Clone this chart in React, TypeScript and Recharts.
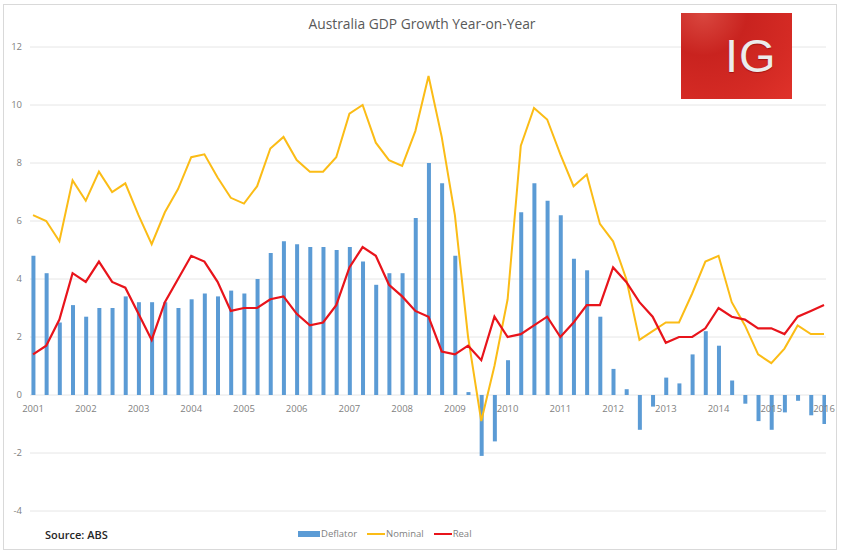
import { ComposedChart, Bar, Line, XAxis, YAxis, CartesianGrid } from 'recharts'

// Quarterly year-on-year growth, Mar-2001 .. Mar-2016 (61 quarters)
const YEARS = [
  '2001', '2002', '2003', '2004', '2005', '2006', '2007', '2008',
  '2009', '2010', '2011', '2012', '2013', '2014', '2015', '2016',
]

const DEFLATOR = [
  4.8, 4.2, 2.5, 3.1, 2.7, 3.0, 3.0, 3.4, 3.2, 3.2, 3.2, 3.0, 3.3, 3.5, 3.4, 3.6,
  3.5, 4.0, 4.9, 5.3, 5.2, 5.1, 5.1, 5.0, 5.1, 4.6, 3.8, 4.2, 4.2, 6.1, 8.0, 7.3,
  4.8, 0.1, -2.1, -1.6, 1.2, 6.3, 7.3, 6.7, 6.2, 4.7, 4.3, 2.7, 0.9, 0.2, -1.2, -0.4,
  0.6, 0.4, 1.4, 2.2, 1.7, 0.5, -0.3, -0.9, -1.2, -0.6, -0.2, -0.7, -1.0,
]

const NOMINAL = [
  6.2, 6.0, 5.3, 7.4, 6.7, 7.7, 7.0, 7.3, 6.2, 5.2, 6.3, 7.1, 8.2, 8.3, 7.5, 6.8,
  6.6, 7.2, 8.5, 8.9, 8.1, 7.7, 7.7, 8.2, 9.7, 10.0, 8.7, 8.1, 7.9, 9.1, 11.0, 8.9,
  6.2, 2.0, -0.9, 1.0, 3.3, 8.6, 9.9, 9.5, 8.3, 7.2, 7.6, 5.9, 5.3, 4.0, 1.9, 2.2,
  2.5, 2.5, 3.5, 4.6, 4.8, 3.2, 2.4, 1.4, 1.1, 1.6, 2.4, 2.1, 2.1,
]

const REAL = [
  1.4, 1.7, 2.6, 4.2, 3.9, 4.6, 3.9, 3.7, 2.8, 1.9, 3.2, 4.0, 4.8, 4.6, 3.9, 2.9,
  3.0, 3.0, 3.3, 3.4, 2.8, 2.4, 2.5, 3.1, 4.4, 5.1, 4.8, 3.8, 3.4, 2.9, 2.7, 1.5,
  1.4, 1.7, 1.2, 2.7, 2.0, 2.1, 2.4, 2.7, 2.0, 2.5, 3.1, 3.1, 4.4, 3.9, 3.2, 2.7,
  1.8, 2.0, 2.0, 2.3, 3.0, 2.7, 2.6, 2.3, 2.3, 2.1, 2.7, 2.9, 3.1,
]

const Y_TICKS = [-4, -2, 0, 2, 4, 6, 8, 10, 12]
const X_TICKS = YEARS.map((_, i) => i * 4)

const C = {
  bar: '#5B9BD5',
  nominal: '#FBBC16',
  real: '#E8141B',
  grid: '#E6E6E6',
  tick: '#7F7F7F',
  title: '#595959',
}

const FONT = '"Open Sans", "Liberation Sans", sans-serif'

// plot spans y = 47 (12) .. 511 (-4), so the zero line sits at 395;
// the year labels hang just under the zero line, as in the Excel original
const ZERO_Y = 395

const data = DEFLATOR.map((d, i) => ({
  q: i,
  deflator: d,
  nominal: NOMINAL[i],
  real: REAL[i],
}))

function YearTick(props: { x?: number; payload?: { value: number } }) {
  const v = props.payload?.value ?? 0
  return (
    <text x={props.x} y={ZERO_Y + 17} textAnchor="middle" fill={C.tick} fontSize={9.5} fontFamily={FONT}>
      {YEARS[v / 4]}
    </text>
  )
}

const LEGEND_ITEMS = [
  { key: 'Deflator', color: C.bar, kind: 'bar' },
  { key: 'Nominal', color: C.nominal, kind: 'line' },
  { key: 'Real', color: C.real, kind: 'line' },
]

export default function App() {
  return (
    <div style={{ position: 'absolute', left: 0, top: 0, width: 844, height: 556, background: '#fff' }}>
      <div
        style={{
          position: 'absolute', left: 3, top: 4, width: 832, height: 544,
          border: '1px solid #D9D9D9',
        }}
      />
      <div
        style={{
          position: 'absolute', left: 0, width: 844, top: 14, textAlign: 'center',
          fontFamily: FONT, fontSize: 13.8, color: C.title,
        }}
      >
        Australia GDP Growth Year-on-Year
      </div>
      <div style={{ position: 'absolute', left: 0, top: 0 }}>
        <ComposedChart
          width={844}
          height={556}
          data={data}
          margin={{ top: 47, right: 18, bottom: 25, left: 0 }}
        >
          <CartesianGrid stroke={C.grid} vertical={false} />
          <XAxis
            dataKey="q"
            type="number"
            domain={[-0.23, 60.15]}
            ticks={X_TICKS}
            tick={<YearTick />}
            axisLine={false}
            tickLine={false}
            height={20}
            interval={0}
            allowDataOverflow
          />
          <YAxis
            domain={[-4, 12]}
            ticks={Y_TICKS}
            axisLine={false}
            tickLine={false}
            width={30}
            tick={{ fill: C.tick, fontSize: 9.5, fontFamily: FONT }}
          />
          <Bar dataKey="deflator" name="Deflator" fill={C.bar} barSize={4} isAnimationActive={false} />
          <Line
            dataKey="nominal"
            name="Nominal"
            type="linear"
            stroke={C.nominal}
            strokeWidth={2}
            dot={false}
            isAnimationActive={false}
          />
          <Line
            dataKey="real"
            name="Real"
            type="linear"
            stroke={C.real}
            strokeWidth={2.2}
            dot={false}
            isAnimationActive={false}
          />
        </ComposedChart>
      </div>
      <div
        style={{
          position: 'absolute', left: 298, top: 527, display: 'flex', alignItems: 'center',
          fontFamily: FONT, fontSize: 9.5, color: C.tick,
        }}
      >
        {LEGEND_ITEMS.map((it) => (
          <div key={it.key} style={{ display: 'flex', alignItems: 'center', marginRight: 10 }}>
            <span
              style={{
                display: 'inline-block',
                width: it.kind === 'bar' ? 22 : 18,
                height: it.kind === 'bar' ? 6 : 2,
                background: it.color,
                marginRight: 1,
              }}
            />
            {it.key}
          </div>
        ))}
      </div>
      <div
        style={{
          position: 'absolute', left: 45, top: 527, fontFamily: FONT, fontSize: 11,
          fontWeight: 600, color: '#262626',
        }}
      >
        Source: ABS
      </div>
      <div
        style={{
          position: 'absolute', left: 681, top: 13, width: 111, height: 86, overflow: 'hidden',
          background: 'radial-gradient(ellipse at 20% 0%, #d9473f 0%, #c9231f 35%, #d42a24 70%, #e0322a 100%)',
        }}
      >
        <div
          style={{
            position: 'absolute', left: 44, top: 18, fontFamily: '"Liberation Sans", Arial, sans-serif',
            fontSize: 47, lineHeight: '50px', color: '#ECECEC', letterSpacing: 1,
            textShadow: '0 1px 1px rgba(120,0,0,0.5)',
          }}
        >
          IG
        </div>
      </div>
    </div>
  )
}
